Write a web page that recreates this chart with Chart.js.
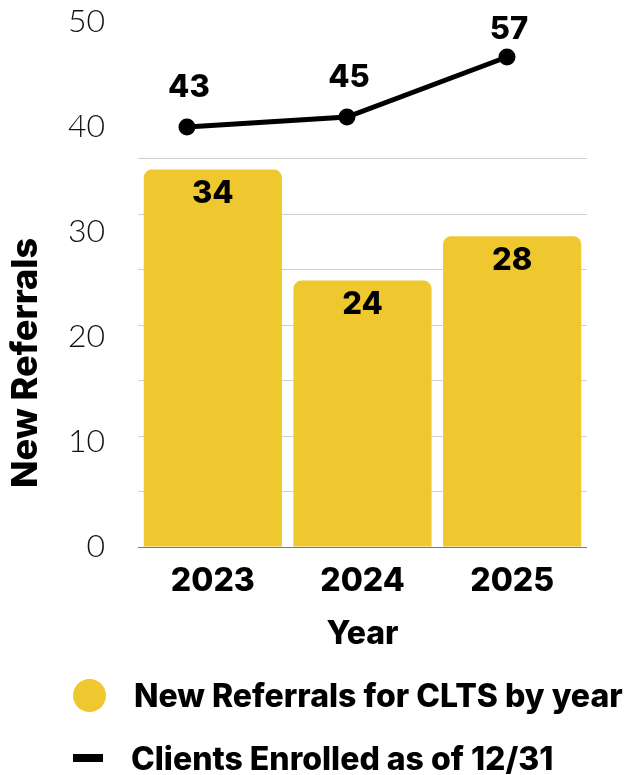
<!DOCTYPE html>
<html>
<head>
<meta charset="utf-8">
<script src="https://cdn.jsdelivr.net/npm/chart.js@4"></script>
<style>
  body { margin: 0; background: #fff; }
  #wrap { position: relative; width: 631px; height: 775px; }
  #legend { position: absolute; left: 73px; top: 672px; font-family: Inter, "Open Sans", sans-serif; font-weight: 800; font-size: 32px; color: #000; }
  .row { display: flex; align-items: center; height: 46px; margin-bottom: 17px; white-space: nowrap; }
  .mark { flex: none; margin-right: 28px; }
</style>
</head>
<body>
<div id="wrap">
  <canvas id="combo"></canvas>
  <div id="legend"></div>
</div>
<script>
const years = ['2023', '2024', '2025'];
const newReferrals = [34, 24, 28];
const clientsEnrolled = [43, 45, 57];
const leftTicks = [0, 10, 20, 30, 40, 50];

const yellow = '#EFC830';
const boldFont = {family: 'Inter', weight: 800, size: 32};

// numbers on the bars, numbers over the line points, and the side title
const valueLabels = {
    id: 'valueLabels',
    afterDatasetsDraw(chart){
        let ctx = chart.ctx;
        ctx.save();
        ctx.fillStyle = '#000';
        ctx.textAlign = 'center';
        ctx.textBaseline = 'middle';
        ctx.font = '800 31px Inter';
        chart.getDatasetMeta(0).data.forEach((bar, i) => {
            ctx.fillText(newReferrals[i], bar.x, bar.y + 24);
        });
        chart.getDatasetMeta(1).data.forEach((pt, i) => {
            let y = Math.max(pt.y - 39, chart.chartArea.top + 8);
            ctx.fillText(clientsEnrolled[i], pt.x + 2, y);
        });
        ctx.translate(26, 363);
        ctx.rotate(-Math.PI / 2);
        ctx.font = '800 36px Inter';
        ctx.fillText('New Referrals', 0, 0);
        ctx.restore();
    }
};

const chart = new Chart(document.getElementById('combo'), {
    data: {
        labels: years,
        datasets: [{
            type: 'bar',
            label: 'New Referrals for CLTS by year',
            data: newReferrals,
            backgroundColor: yellow,
            borderRadius: 8,
            borderSkipped: 'start',
            grouped: false,
            barPercentage: 0.923,
            categoryPercentage: 1,
            xAxisID: 'x',
            yAxisID: 'y1',
            order: 1
        }, {
            type: 'line',
            label: 'Clients Enrolled as of 12/31',
            data: clientsEnrolled.map((v, i) => ({x: i, y: v})),
            borderColor: '#000',
            backgroundColor: '#000',
            borderWidth: 5,
            pointRadius: 6,
            pointBackgroundColor: '#000',
            tension: 0,
            xAxisID: 'x2',
            yAxisID: 'y2',
            order: 0
        }]
    },
    options: {
        responsive: true,
        maintainAspectRatio: false,
        animation: false,
        layout: {padding: {top: 22, right: 44, left: 0, bottom: 121}},
        plugins: {legend: {display: false}, tooltip: {enabled: false}},
        scales: {
            x: {
                type: 'category',
                position: 'bottom',
                offset: true,
                grid: {display: false},
                border: {display: false},
                ticks: {color: '#000', padding: 7, font: boldFont},
                title: {display: true, text: 'Year', color: '#000', padding: 0, font: boldFont},
                afterFit: s => { s.height = 107; s.paddingLeft = 0; s.paddingRight = 0; }
            },
            x2: {type: 'linear', display: false, min: -0.306, max: 2.5},
            y: {
                position: 'left',
                min: 0,
                max: 50,
                afterBuildTicks: s => { s.ticks = leftTicks.map(v => ({value: v})); },
                grid: {display: false},
                border: {display: false},
                ticks: {color: '#111', padding: 25, font: {family: 'Lato', weight: 300, size: 32}},
                afterFit: s => { s.width = 138; s.paddingTop = 0; s.paddingBottom = 0; }
            },
            y1: {
                position: 'right',
                min: 0,
                max: 47.3,
                border: {display: false},
                ticks: {display: false, stepSize: 5},
                grid: {
                    drawTicks: false,
                    color: c => c.tick.value === 0 ? '#777' : (c.tick.value <= 35 ? '#d0d0d0' : 'rgba(0,0,0,0)')
                },
                afterFit: s => { s.width = 0; s.paddingTop = 0; s.paddingBottom = 0; }
            },
            y2: {display: false, min: -41, max: 64}
        }
    },
    plugins: [valueLabels]
});

// legend rows built from the datasets
let legend = document.getElementById('legend');
chart.data.datasets.forEach(ds => {
    let row = document.createElement('div');
    row.className = 'row';
    let mark = document.createElement('span');
    mark.className = 'mark';
    if (ds.type === 'bar') {
        mark.style.cssText = 'width:33px;height:33px;border-radius:50%;background:' + ds.backgroundColor;
    } else {
        mark.style.cssText = 'width:30px;height:8px;background:' + ds.borderColor;
    }
    let text = document.createElement('span');
    text.textContent = ds.label;
    row.appendChild(mark);
    row.appendChild(text);
    legend.appendChild(row);
});
</script>
</body>
</html>
